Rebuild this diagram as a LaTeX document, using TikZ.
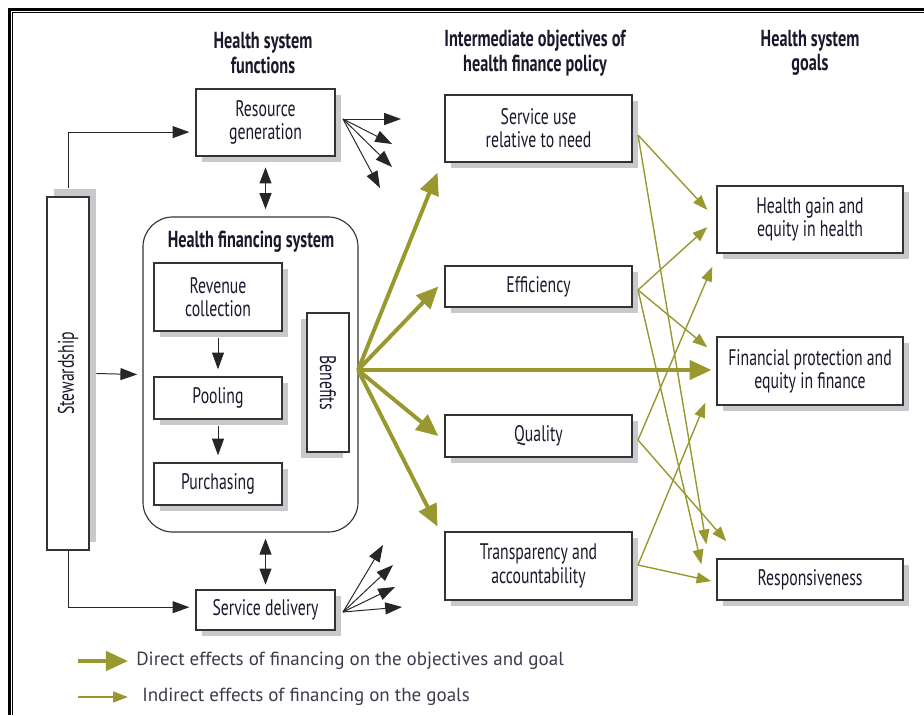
\documentclass[tikz,border=0pt]{standalone}
\usepackage{fontspec}
\setmainfont{PT Sans}[FakeStretch=0.7]
\newfontfamily\legendfont{PT Sans}
\usetikzlibrary{arrows.meta,shadows}
\definecolor{finolive}{RGB}{152,152,46}
\definecolor{inktext}{RGB}{25,25,45}
\definecolor{shadowgray}{RGB}{200,200,205}
\tikzset{
  sbox/.style 2 args={draw=black!80, line width=0.9pt, fill=white, text=inktext, align=center,
    inner sep=0pt, font=\fontsize{16}{16.5}\selectfont,
    drop shadow={shadow xshift=#1, shadow yshift=#2, fill=shadowgray, opacity=1}},
  fbox/.style={sbox={0.15cm}{-0.15cm}},
  hdr/.style={font=\bfseries\fontsize{16.5}{17.5}\selectfont, text=inktext, align=center},
  blk/.style={line width=0.7pt, black!85, -{Triangle[length=0.42cm,width=0.3cm]}},
  dbl/.style={line width=0.7pt, black!85, {Triangle[length=0.4cm,width=0.3cm]}-{Triangle[length=0.4cm,width=0.3cm]}},
  direct/.style={line width=2.8pt, finolive, -{Triangle[length=0.55cm,width=0.48cm]}},
  indirect/.style={line width=1pt, finolive, -{Triangle[length=0.37cm,width=0.27cm]}},
  lgd/.style={font=\legendfont\fontsize{13.5}{15}\selectfont, text=inktext!85, anchor=west, inner sep=0pt}
}

\begin{document}
\begin{tikzpicture}[x=0.025cm,y=-0.025cm]
\useasboundingbox (0,0) rectangle (924,715);
\draw[line width=2.1pt] (9.7,715) -- (9.7,9.7) -- (924,9.7);
\draw[line width=0.9pt] (12.7,715) -- (12.7,12.7) -- (924,12.7);

\node[hdr] at (263,53) {Health system\\functions};
\node[hdr] at (535,53) {Intermediate objectives of\\health finance policy};
\node[hdr] at (810,53) {Health system\\goals};

\node[draw=black!80, line width=0.8pt, rounded corners=0.75cm, minimum width=5.375cm, minimum height=7.875cm] (hfs) at (250.5,374.5) {};
\node[hdr] (hfst) at (251,242) {Health financing system};

\node[fbox, minimum width=3.475cm, minimum height=1.675cm] (res) at (265.5,122.5) {Resource\\generation};
\node[fbox, minimum width=3.475cm, minimum height=1cm] (del) at (265.5,610) {Service delivery};
\node[sbox={0.17cm}{0.2cm}, minimum width=1.05cm, minimum height=8.825cm] (stew) at (68,373.5) {\rotatebox{90}{Stewardship}};
\node[fbox, minimum width=3.2cm, minimum height=1.7cm] (rev) at (218,297) {Revenue\\collection};
\node[fbox, minimum width=3.2cm, minimum height=1.05cm] (pool) at (218,398) {Pooling};
\node[fbox, minimum width=3.2cm, minimum height=1.05cm] (purch) at (218,484) {Purchasing};
\node[sbox={-0.15cm}{-0.15cm}, minimum width=1.05cm, minimum height=3.475cm] (ben) at (328,382.5) {\rotatebox{-90}{Benefits}};

\node[fbox, minimum width=4.675cm, minimum height=1.675cm] (use) at (538.5,128.5) {Service use\\relative to need};
\node[fbox, minimum width=4.675cm, minimum height=1.025cm] (eff) at (538.5,286.5) {Efficiency};
\node[fbox, minimum width=4.675cm, minimum height=1.05cm] (qual) at (538.5,436) {Quality};
\node[fbox, minimum width=4.675cm, minimum height=1.7cm] (transp) at (538.5,566) {Transparency and\\accountability};

\node[fbox, minimum width=4.65cm, minimum height=1.675cm] (gain) at (810,219.5) {Health gain and\\equity in health};
\node[fbox, minimum width=4.65cm, minimum height=1.7cm] (fin) at (810,371) {Financial protection and\\equity in finance};
\node[fbox, minimum width=4.65cm, minimum height=1.025cm] (resp) at (810,579.5) {Responsiveness};

% black connectors
\draw[blk, shorten >=0.15cm] ([yshift=0.2cm]stew.north) |- ([yshift=-0.24cm]res.west);
\draw[blk, shorten >=0.15cm] (stew.south) |- ([yshift=0.07cm]del.west);
\draw[blk] ([xshift=0.17cm]stew.east) -- ([xshift=-0.13cm]hfs.west);
\draw[dbl] ([yshift=-0.27cm]res.south) -- ([yshift=0.18cm]res.south |- hfs.north);
\draw[dbl] ([yshift=-0.15cm]del.north |- hfs.south) -- ([yshift=0.12cm]del.north);
\draw[blk] ([yshift=-0.15cm]rev.south) -- ([yshift=0.175cm]pool.north);
\draw[blk] ([yshift=-0.15cm]pool.south) -- ([yshift=0.175cm]purch.north);

\coordinate (resfan) at (343,119);
\coordinate (delfan) at (343,612);
\foreach \dx/\dy in {58/0, 49/25, 49/48, 37/69}
  \draw[blk] (resfan) -- ++(\dx,\dy);
\foreach \dx/\dy in {40/-67, 50/-47, 52/-25, 59/-5}
  \draw[blk] (delfan) -- ++(\dx,\dy);

% direct effects
\coordinate (fan) at (358,370);
\draw[direct] (fan) -- ([shift={(-0.17cm,-0.25cm)}]use.south west);
\draw[direct] (fan) -- ([xshift=-0.15cm]eff.west);
\draw[direct] (fan) -- ([xshift=-0.12cm]fan -| fin.west);
\draw[direct] (fan) -- ([xshift=-0.15cm]qual.west);
\draw[direct] (fan) -- ([shift={(-0.17cm,0.12cm)}]transp.north west);

% indirect effects
\coordinate (u0) at (638,135);
\coordinate (e0) at (638,290);
\coordinate (q0) at (638,440);
\coordinate (t0) at (638,565);
\draw[indirect] (u0) -- ([shift={(-0.225cm,0.24cm)}]gain.west);
\draw[indirect] (u0) -- ([shift={(-0.25cm,0.35cm)}]resp.north west);
\draw[indirect] (e0) -- ([shift={(-0.225cm,-0.19cm)}]gain.west);
\draw[indirect] (e0) -- ([shift={(-0.225cm,-0.275cm)}]fin.north west);
\draw[indirect] (e0) -- ([shift={(-0.375cm,-0.15cm)}]resp.north west);
\draw[indirect] (q0) -- ([shift={(-0.1cm,-0.325cm)}]gain.south west);
\draw[indirect] (q0) -- ([shift={(0.25cm,0.425cm)}]resp.north west);
\draw[indirect] (t0) -- ([shift={(-0.275cm,0.075cm)}]fin.south west);
\draw[indirect] (t0) -- ([shift={(-0.125cm,-0.04cm)}]resp.west);

% legend
\node[lgd] (lg1) at (136,661) {Direct effects of financing on the objectives and goal};
\node[lgd] (lg2) at (142,697) {Indirect effects of financing on the goals};
\draw[direct] ([xshift=-1.45cm]lg1.west) -- ([xshift=-0.2cm]lg1.west);
\draw[indirect, line width=1.2pt] ([xshift=-1.6cm]lg2.west) -- ([xshift=-0.35cm]lg2.west);
\end{tikzpicture}
\end{document}
